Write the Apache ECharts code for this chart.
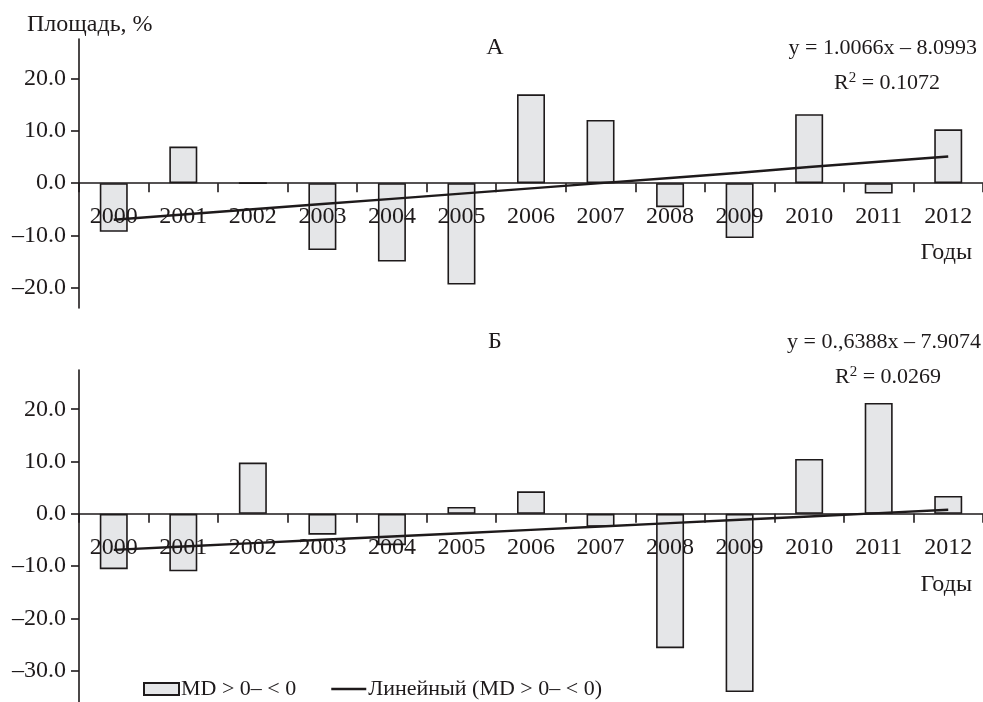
<!DOCTYPE html>
<html>
<head>
<meta charset="utf-8">
<script src="https://cdn.jsdelivr.net/npm/echarts@6/dist/echarts.min.js"></script>
<style>
html,body{margin:0;padding:0;background:#fff;}
#chart{width:983px;height:702px;}
</style>
</head>
<body>
<div id="chart"></div>
<script>
var years = ['2000','2001','2002','2003','2004','2005','2006','2007','2008','2009','2010','2011','2012'];
var barsA = [-9.3, 7.0, 0, -12.8, -15.0, -19.4, 17.0, 12.1, -4.6, -10.5, 13.2, -2.0, 10.3];
var trendA = [-7.0, -6.0, -5.0, -4.0, -3.0, -2.0, -1.0, 0.0, 1.0, 2.0, 3.1, 4.1, 5.1];
var barsB = [-10.6, -11.0, 9.8, -4.0, -6.0, 1.3, 4.3, -2.5, -25.7, -34.1, 10.5, 21.2, 3.4];
var trendB = [-6.9, -6.26, -5.62, -4.98, -4.35, -3.71, -3.07, -2.43, -1.79, -1.15, -0.51, 0.12, 0.76];
var ticksA = [-20, -10, 0, 10, 20];
var ticksB = [-30, -20, -10, 0, 10, 20];
var rangeA = [-23.9, 27.6];
var rangeB = [-36.0, 27.5];
var barName = 'MD > 0\u2013 < 0';
var lineName = 'Линейный (MD > 0\u2013 < 0)';

var FONT = '"Liberation Serif", "DejaVu Serif", serif';
var INK = '#1e1a1b';
var gridA = {left: 79, top: 39, width: 906, height: 269};
var gridB = {left: 79, top: 370, width: 906, height: 332};

function yFmt(v){ return v < 0 ? '\u2013' + Math.abs(v).toFixed(1) : v.toFixed(1); }

function xAxis(idx, grid, range){
  // place the category axis on the zero line of its value axis
  var off = -(0 - range[0]) / (range[1] - range[0]) * grid.height;
  return {
    type: 'category', gridIndex: idx, data: years, position: 'bottom', offset: off, z: 4,
    axisLine: {onZero: false, lineStyle: {color: INK, width: 1.6}},
    axisTick: {show: true, length: 9, lineStyle: {color: INK, width: 1.6}},
    axisLabel: {color: INK, fontFamily: FONT, fontSize: 24, margin: 22},
    splitLine: {show: false}
  };
}
function yAxis(idx, range, ticks){
  return {
    type: 'value', gridIndex: idx, min: range[0], max: range[1], z: 4,
    axisLine: {show: true, lineStyle: {color: INK, width: 1.6}},
    axisTick: {show: true, length: 8, customValues: ticks, lineStyle: {color: INK, width: 1.6}},
    axisLabel: {color: INK, fontFamily: FONT, fontSize: 24, margin: 13, customValues: ticks, formatter: yFmt},
    splitLine: {show: false}
  };
}
function txt(text, x, y, align, size){
  return {type: 'text', z: 10, style: {text: text, x: x, y: y, textAlign: align, textVerticalAlign: 'middle',
           fill: INK, font: (size || 24) + 'px ' + FONT}};
}
var rich = {sup: {fontSize: 15, fontFamily: FONT, color: INK, verticalAlign: 'top', padding: [0,0,10,0]}, n: {fontSize: 22, fontFamily: FONT, color: INK}};

var option = {
  backgroundColor: '#fff',
  animation: false,
  grid: [gridA, gridB],
  xAxis: [xAxis(0, gridA, rangeA), xAxis(1, gridB, rangeB)],
  yAxis: [yAxis(0, rangeA, ticksA), yAxis(1, rangeB, ticksB)],
  legend: {
    left: 143, top: 678, padding: 0, itemWidth: 35, itemHeight: 12, itemGap: 35,
    textStyle: {color: INK, fontFamily: FONT, fontSize: 22, padding: [0,0,0,-3]},
    data: [
      {name: barName, icon: 'rect'},
      {name: lineName, icon: 'path://M0,0L30,0L30,2.2L0,2.2Z'}
    ]
  },
  graphic: [
    txt('Площадь, %', 27, 25, 'left'),
    txt('А', 495, 48, 'center'),
    txt('y = 1.0066x \u2013 8.0993', 977, 48, 'right', 22),
    {type: 'text', z: 10, style: {text: '{n|R}{sup|2}{n| = 0.1072}', rich: rich, x: 887, y: 83, textAlign: 'center', textVerticalAlign: 'middle', fill: INK, font: '22px ' + FONT}},
    txt('Годы', 972, 253, 'right'),
    txt('Б', 495, 342, 'center'),
    txt('y = 0.,6388x \u2013 7.9074', 981, 342, 'right', 22),
    {type: 'text', z: 10, style: {text: '{n|R}{sup|2}{n| = 0.0269}', rich: rich, x: 888, y: 377, textAlign: 'center', textVerticalAlign: 'middle', fill: INK, font: '22px ' + FONT}},
    txt('Годы', 972, 585, 'right')
  ],
  series: [
    {name: barName, type: 'bar', xAxisIndex: 0, yAxisIndex: 0, data: barsA, barWidth: 28, z: 2,
     itemStyle: {color: '#e5e6e8', borderColor: INK, borderWidth: 1.6}},
    {name: lineName, type: 'line', xAxisIndex: 0, yAxisIndex: 0, data: trendA, symbol: 'none', z: 6,
     lineStyle: {color: INK, width: 2.4}, itemStyle: {color: INK}},
    {name: barName, type: 'bar', xAxisIndex: 1, yAxisIndex: 1, data: barsB, barWidth: 28, z: 2,
     itemStyle: {color: '#e5e6e8', borderColor: INK, borderWidth: 1.6}},
    {name: lineName, type: 'line', xAxisIndex: 1, yAxisIndex: 1, data: trendB, symbol: 'none', z: 6,
     lineStyle: {color: INK, width: 2.4}, itemStyle: {color: INK}}
  ]
};
var chart = echarts.init(document.getElementById('chart'), null, {renderer: 'canvas'});
chart.setOption(option);
</script>
</body>
</html>
